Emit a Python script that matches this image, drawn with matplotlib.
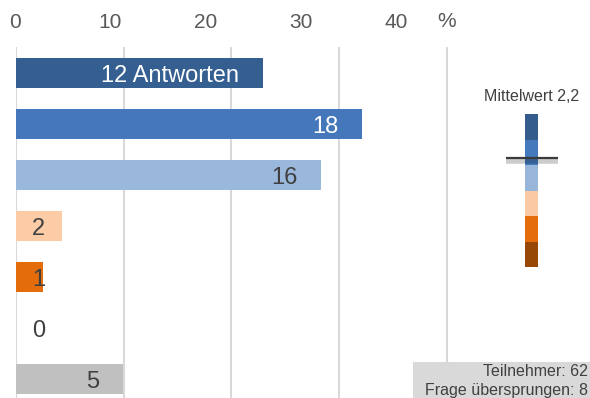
import matplotlib
matplotlib.use("Agg")
import matplotlib.pyplot as plt
import matplotlib.patheffects as pe
from matplotlib.patches import Rectangle
from matplotlib.transforms import blended_transform_factory

plt.rcParams['font.family'] = ['Liberation Sans', 'DejaVu Sans']

# ---- data ----
counts = [12, 18, 16, 2, 1, 0, 5]
percents = [22.9, 32.1, 28.3, 4.3, 2.5, 0.0, 9.9]
bar_colors = ['#355f91', '#4478ba', '#9ab8dc', '#fbcca5', '#e46c0a', '#974706', '#c0c0c0']
label_colors = ['white', 'white', '#404040', '#404040', '#404040', '#404040', '#404040']
first_suffix = ' Antworten'
x_ticks = [0, 10, 20, 30, 40]
scale_colors = ['#345d8e', '#4479bb', '#98b6da', '#fbcaa2', '#e56d0c', '#974807']
mean_value = 2.2
participants = 62
skipped = 8

W, H = 590, 398
fig = plt.figure(figsize=(W / 100, H / 100), dpi=100)

# main axes: x=0 at px 16, 10.77 px per unit; rows centered at 72.8 + 51*i
left_px, top_px, bottom_px = 16, 47, 398
px_per_unit = 10.77
xmax = 50
ax = fig.add_axes([left_px / W, (H - bottom_px) / H,
                   xmax * px_per_unit / W, (bottom_px - top_px) / H])
ax.set_xlim(0, xmax)
pitch = 51.0
row0 = 72.8
ax.set_ylim((bottom_px - row0) / pitch, (top_px - row0) / pitch)
for s in ax.spines.values():
    s.set_visible(False)
ax.set_xticks([])
ax.set_yticks([])
ax.patch.set_alpha(0)

for xv in x_ticks:
    ax.axvline(xv, color='#d9d9d9', lw=1.5, zorder=0)

ypos = list(range(len(counts)))
ax.barh(ypos, percents, height=0.6, color=bar_colors[:len(counts) - 1] + [bar_colors[-1]],
        zorder=2)

for i, (c, p) in enumerate(zip(counts, percents)):
    txt = f"{c}{first_suffix}" if i == 0 else f"{c}"
    if p > 6:
        xy, ha = (p - 2.15, i), 'right'
    else:
        xy, ha = (2.1, i), 'center'
    ax.annotate(txt, xy=xy, xytext=(0, -2.2), textcoords='offset points',
                ha=ha, va='center', fontsize=17, color=label_colors[i], zorder=3)

# top tick labels (offset scale as in the original)
inv = lambda s: (9.52 * s - 1) / px_per_unit
trans = blended_transform_factory(ax.transData, ax.transAxes)
y_lab = 1 + (top_px - 22.5) / (bottom_px - top_px)
for s in x_ticks:
    ax.text(inv(s), y_lab, str(s), ha='center', va='center', fontsize=15,
            color='#595959', transform=trans)
ax.text(40, 1 + (top_px - 21.5) / (bottom_px - top_px), '%', ha='center', va='center',
        fontsize=15, color='#595959', transform=trans)

# mean scale inset
x0, x1, y0, y1 = 525, 538.3, 114.3, 267.3
ax2 = fig.add_axes([x0 / W, (H - y1) / H, (x1 - x0) / W, (y1 - y0) / H])
ax2.set_xlim(0, 1)
ax2.set_ylim(len(scale_colors) + 0.5, 0.5)
ax2.bar([0.5] * len(scale_colors), [1] * len(scale_colors), width=1,
        bottom=[k + 0.5 for k in range(len(scale_colors))], color=scale_colors)
ax2.axis('off')
ax2.plot([(506 - x0) / (x1 - x0), (558 - x0) / (x1 - x0)], [mean_value, mean_value],
         color='#3a3a3a', lw=1.6, clip_on=False, solid_capstyle='butt',
         path_effects=[pe.SimpleLineShadow(offset=(0, -2.5), alpha=0.2, shadow_color='black',
                                           linewidth=4),
                       pe.Normal()])
ax2.text(0.5, 1 + 17.6 / (y1 - y0), f"Mittelwert {str(mean_value).replace('.', ',')}",
         ha='center', va='center', fontsize=11.5, color='#404040', transform=ax2.transAxes)

# info box bottom-right
fig.add_artist(Rectangle((413 / W, 0), (W - 413) / W, 36 / H, transform=fig.transFigure,
                         facecolor='#d9d9d9', edgecolor='none', zorder=5))
fig.text(588 / W, (H - 372) / H, f"Teilnehmer: {participants}", ha='right', va='center',
         fontsize=11.5, color='#404040', zorder=6)
fig.text(588 / W, (H - 390) / H, f"Frage übersprungen: {skipped}", ha='right', va='center',
         fontsize=11.5, color='#404040', zorder=6)

fig.savefig('out.png', dpi=100)
